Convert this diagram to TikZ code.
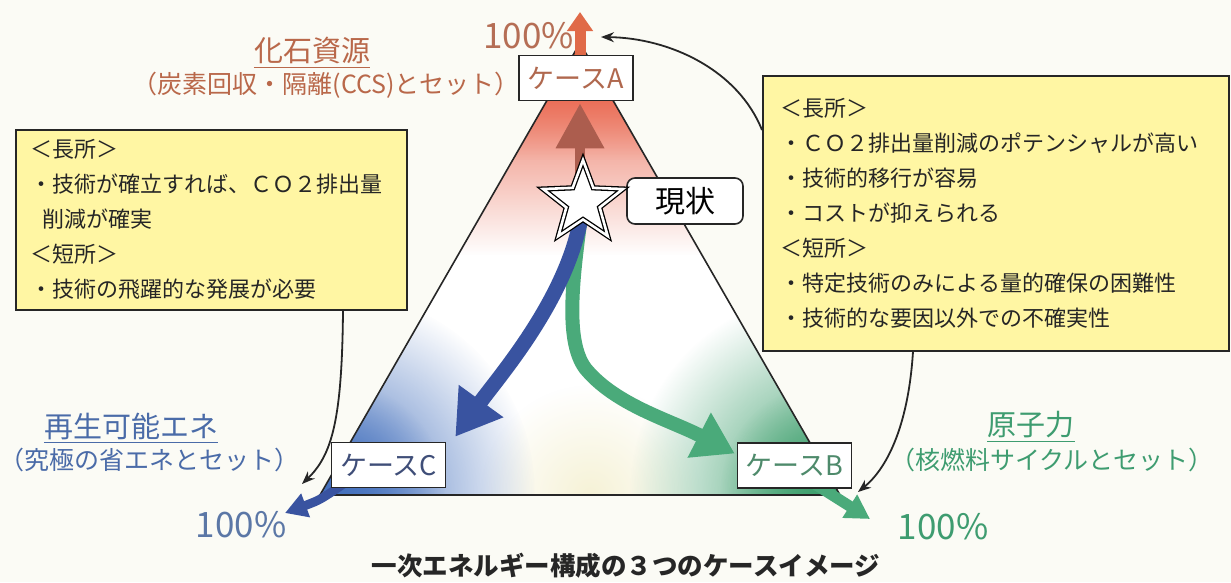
\documentclass[tikz,border=0pt]{standalone}
\usepackage{fontspec}
\setmainfont{Noto Sans CJK JP}
\usetikzlibrary{arrows.meta,shapes.geometric,fadings,calc}
\pgfdeclarelayer{back}
\pgfdeclarelayer{mid}
\pgfsetlayers{back,mid,main}
\tikzfading[name=fadedown, top color=transparent!0, bottom color=transparent!100]
\tikzfading[name=radfade, inner color=transparent!0, outer color=transparent!100]
\definecolor{bgc}{HTML}{FBFBF5}
\definecolor{boxyellow}{HTML}{FFF6A3}
\definecolor{brownT}{HTML}{B9684A}
\definecolor{brownP}{HTML}{B56E55}
\definecolor{blueT}{HTML}{4A6BA8}
\definecolor{blueP}{HTML}{5B77A6}
\definecolor{greenT}{HTML}{3E9C70}
\definecolor{redtop}{HTML}{E85A40}
\definecolor{bluetint}{HTML}{4672BE}
\definecolor{greentint}{HTML}{3FA06E}
\definecolor{yellowtint}{HTML}{F6F2D6}
\definecolor{blueArr}{HTML}{3953A0}
\definecolor{greenArr}{HTML}{4AAA7A}
\definecolor{brownArr}{HTML}{AC5D4E}
\definecolor{topArr}{HTML}{E06A48}
\definecolor{caseAtxt}{HTML}{B0684E}
\definecolor{caseBtxt}{HTML}{4E8A6B}
\definecolor{caseCtxt}{HTML}{3F4E78}
\begin{document}
\begin{tikzpicture}[x=1pt,y=-1pt,
  casebox/.style={draw=black!85, line width=1.6pt, fill=white, minimum width=114pt, minimum height=45pt, inner sep=0pt, font=\fontsize{27}{27}\selectfont},
  ybox/.style={draw=black!85, line width=1.6pt, fill=boxyellow, align=left, anchor=north west, font=\fontsize{22}{35}\selectfont, text=black!85},
  titlef/.style={font=\fontsize{29}{29}\selectfont, inner sep=0pt},
  subf/.style={font=\fontsize{25}{25}\selectfont, inner sep=0pt},
  pctf/.style={font=\fontsize{35}{35}\selectfont, inner sep=0pt},
  conn/.style={draw=black!85, line width=1.8pt, -{Stealth[length=13pt,width=10pt]}},
  ulline/.style={line width=1.3pt}
]
\useasboundingbox (0,0) rectangle (1231,582);

\coordinate (TA) at (580,43);
\coordinate (TL) at (320,495);
\coordinate (TR) at (840,495);

\begin{pgfonlayer}{back}
\fill[bgc] (0,0) rectangle (1231,582);
\begin{scope}
\clip (TA) -- (TL) -- (TR) -- cycle;
\fill[white] (TA) -- (TL) -- (TR) -- cycle;
\fill[yellowtint, path fading=radfade] (590,495) circle (110pt);
\fill[redtop, path fading=fadedown] (300,43) rectangle (860,255);
\fill[redtop, path fading=fadedown] (300,43) rectangle (860,160);
\fill[bluetint, path fading=radfade] (335,492) circle (200pt);
\fill[bluetint, path fading=radfade] (335,492) circle (110pt);
\fill[greentint, path fading=radfade] (830,492) circle (200pt);
\fill[greentint, path fading=radfade] (830,492) circle (110pt);
\end{scope}
\draw[line width=1.6pt, black!85, line join=miter] (TA) -- (TL) -- (TR) -- cycle;
\end{pgfonlayer}

% nodes
\node[casebox, text=caseAtxt] (caseA) at (576,78) {ケースA};
\node[casebox, text=caseCtxt] (caseC) at (388.5,465) {ケースC};
\node[casebox, text=caseBtxt] (caseB) at (794.5,465.5) {ケースB};
\node[draw=black!85, line width=1.6pt, fill=white, rounded corners=8pt, minimum width=116pt, minimum height=46pt, inner sep=0pt, font=\fontsize{30}{30}\selectfont] (now) at (685,201) {現状};
\node[star, star points=5, star point ratio=2.4, minimum size=84pt, inner sep=0pt, draw=black, line width=1.3pt, double=white, double distance=2.6pt, fill=white] (star) at (583,202) {};

\node[ybox, text width=430pt, inner xsep=18pt, minimum height=275pt] (rbox) at (762,75) {＜長所＞\\
・ＣＯ２排出量削減のポテンシャルが高い\\
・技術的移行が容易\\
・コストが抑えられる\\
＜短所＞\\
・特定技術のみによる量的確保の困難性\\
・技術的な要因以外での不確実性};

\node[ybox, text width=361pt, inner xsep=15pt, minimum height=180pt] (lbox) at (15,129) {＜長所＞\\
・技術が確立すれば、ＣＯ２排出量\\
\hspace*{0.55em}削減が確実\\
＜短所＞\\
・技術の飛躍的な発展が必要};

% labels
\node[titlef, text=brownT] (tA) at (312,51) {化石資源};
\draw[brownT, ulline] ($(tA.south west)+(0,3)$) -- ($(tA.south east)+(0,3)$);
\node[subf, text=brownT, anchor=east] (sA) at (520,85) {（炭素回収・隔離(CCS)とセット）};
\node[pctf, text=brownP, anchor=east] (pctA) at (574,36) {100\%};

\node[titlef, text=blueT] (tC) at (131,426) {再生可能エネ};
\draw[blueT, ulline] ($(tC.south west)+(0,3)$) -- ($(tC.south east)+(0,3)$);
\node[subf, text=blueT, anchor=east] (sC) at (300,460) {（究極の省エネとセット）};
\node[pctf, text=blueP] (pctC) at (241,525) {100\%};

\node[titlef, text=greenT] (tB) at (1031,425) {原子力};
\draw[greenT, ulline] ($(tB.south west)+(0,3)$) -- ($(tB.south east)+(0,3)$);
\node[subf, text=greenT, anchor=west] (sB) at (890,460) {（核燃料サイクルとセット）};
\node[pctf, text=greenT] (pctB) at (943,527) {100\%};

\node[font=\fontsize{25.5}{25.5}\selectfont\bfseries, text=black!85, inner sep=0pt] (cap) at (626,566) {一次エネルギー構成の３つのケースイメージ};

% arrows (under nodes)
\coordinate (tipA) at (580,12);
\coordinate (tipC) at (285,513);
\coordinate (tipB) at (870,519);
\begin{pgfonlayer}{mid}
\draw[greenArr, line width=14pt, -{Triangle[length=40pt,width=48pt]}] (star.center) .. controls (572,280) and (565,340) .. (585,368) .. controls (615,405) and (670,420) .. ($(caseB.west)+(-2,-12)$);
\draw[blueArr, line width=15pt, -{Triangle[length=44pt,width=52pt]}] (star.center) .. controls (575,290) and (500,375) .. ($(caseC.north east)+(9,-5)$);
\draw[brownArr, line width=10pt, -{Triangle[length=45pt,width=46pt]}] ($(star.center)+(-3,0)$) -- ($(caseA.south)+(4,2)$);
\draw[topArr, line width=11pt, -{Triangle[length=19pt,width=25pt]}] ($(caseA.north)+(4,5)$) -- (tipA);
\draw[blueArr, line width=9pt, -{Triangle[length=22pt,width=24pt]}] ($(caseC.south west)+(18,-8)$) .. controls (320,500) .. (tipC);
\draw[greenArr, line width=11pt, -{Triangle[length=24pt,width=26pt]}] ($(caseB.south)+(15,-8)$) .. controls (840,500) .. (tipB);
\end{pgfonlayer}

% connectors
\coordinate (pA) at (601,37);
\coordinate (pC) at (302,484);
\coordinate (pB) at (858,492);
\draw[conn] ($(rbox.north west)+(0,55)$) .. controls (738,70) and (670,38) .. (pA);
\draw[conn] ($(lbox.south west)+(328,0)$) .. controls (342,420) and (332,455) .. (pC);
\draw[conn] ($(rbox.south west)+(151,0)$) .. controls (908,430) and (885,470) .. (pB);
\end{tikzpicture}
\end{document}
